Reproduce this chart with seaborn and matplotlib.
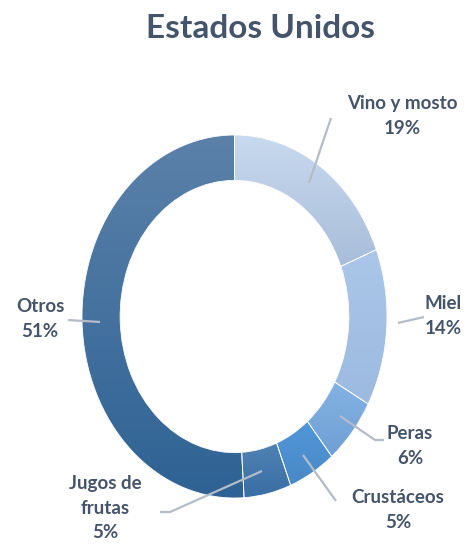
import matplotlib
matplotlib.use("Agg")
import matplotlib.pyplot as plt
from matplotlib.colors import LinearSegmentedColormap
import numpy as np
import seaborn as sns

sns.set_theme(style="white")
plt.rcParams['font.family'] = ['Lato', 'DejaVu Sans']

categories = ["Vino y mosto", "Miel", "Peras", "Crustáceos", "Jugos de\nfrutas", "Otros"]
values = [19, 14, 6, 5, 5, 51]
colors_top = ["#c8daef", "#abc6e8", "#84b2e4", "#5097d9", "#4f81b3", "#5b81a9"]
colors_bottom = ["#a8bdd9", "#9cbae0", "#6f9fd4", "#4a88c6", "#3a6ea4", "#2e6294"]

W, H = 473, 548
fig = plt.figure(figsize=(W / 100, H / 100), dpi=100)
fig.patch.set_facecolor("white")

# donut bounding box in pixels
x0, x1, y0, y1 = 82, 387, 135, 498
ax = fig.add_axes([x0 / W, 1 - y1 / H, (x1 - x0) / W, (y1 - y0) / H])
wedges, _ = ax.pie(values, colors=colors_top, startangle=90, counterclock=False, radius=1,
                   wedgeprops=dict(width=0.25, edgecolor="white", linewidth=0.6))

grad = np.linspace(1, 0, 256).reshape(-1, 1)
for w, ct, cb in zip(wedges, colors_top, colors_bottom):
    t1, t2 = np.deg2rad(w.theta1), np.deg2rad(w.theta2)
    th = np.linspace(t1, t2, 200)
    ys = np.concatenate([np.sin(th), 0.75 * np.sin(th)])
    xs = np.concatenate([np.cos(th), 0.75 * np.cos(th)])
    cmap = LinearSegmentedColormap.from_list("g", [cb, ct])
    im = ax.imshow(grad, cmap=cmap, extent=(xs.min(), xs.max(), ys.min(), ys.max()),
                   aspect="auto", origin="upper", zorder=w.get_zorder() + 0.1, vmin=0, vmax=1)
    im.set_clip_path(w)
    w2 = plt.matplotlib.patches.Wedge((0, 0), 1, w.theta1, w.theta2, width=0.25,
                                     facecolor="none", edgecolor="white", linewidth=0.6,
                                     zorder=w.get_zorder() + 0.2)
    ax.add_patch(w2)

ax.set_aspect("auto")
ax.set_xlim(-1, 1)
ax.set_ylim(-1, 1)
ax.axis("off")

cx, cy = (x0 + x1) / 2, (y0 + y1) / 2
sx, sy = (x1 - x0) / 2, (y1 - y0) / 2

def d(px, py):
    return ((px - cx) / sx, (cy - py) / sy)

text_color = "#44546a"
line_color = "#b3bcc8"

label_pos = [(402, 116), (443, 316), (410, 446), (398, 510), (105, 508), (40, 319)]
leaders = [
    [(309, 183), (331, 118)],
    [(398, 323), (424, 317)],
    [(340, 416), (375, 440), (384, 440)],
    [(303, 455), (336, 501)],
    [(262, 471), (170, 512), (160, 512)],
    [(68, 320), (100, 322)],
]

for cat, val, (px, py), pts in zip(categories, values, label_pos, leaders):
    xs, ys = zip(*[d(a, b) for a, b in pts])
    ax.plot(xs, ys, color=line_color, lw=1.6, clip_on=False, solid_capstyle="butt", zorder=5)
    tx, ty = d(px, py)
    ax.text(tx, ty, f"{cat}\n{val}%", ha="center", va="center", fontsize=13.5,
            fontweight="bold", color=text_color, linespacing=1.55, clip_on=False, zorder=6)

fig.text(260 / W, 1 - 28 / H, "Estados Unidos", ha="center", va="center",
         fontsize=24, fontweight="bold", color=text_color)

fig.savefig("out.png", dpi=100, facecolor="white")
